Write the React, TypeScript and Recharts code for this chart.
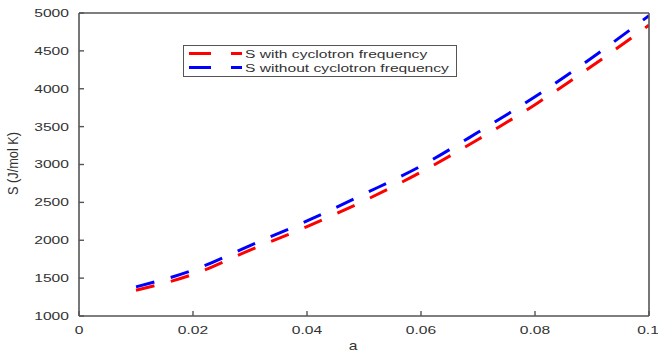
import React from 'react';
import { LineChart, Line, XAxis, YAxis, Legend } from 'recharts';

const aValues = [0.01, 0.02, 0.03, 0.04, 0.05, 0.06, 0.07, 0.08, 0.09, 0.1];
const sWithCyclotron = [1340, 1550, 1870, 2180, 2520, 2900, 3330, 3790, 4300, 4840];
const sWithoutCyclotron = [1385, 1605, 1930, 2255, 2610, 2980, 3425, 3895, 4410, 4965];
const xTicks = [0, 0.02, 0.04, 0.06, 0.08, 0.1];
const xTickLabels = ['0', '0.02', '0.04', '0.06', '0.08', '0.1'];
const yTicks = [1000, 1500, 2000, 2500, 3000, 3500, 4000, 4500, 5000];
const seriesNames = ['S with cyclotron frequency', 'S without cyclotron frequency'];
const seriesColors = ['#ff0000', '#0000ff'];

const data = aValues.map((a, i) => ({ a, s1: sWithCyclotron[i], s2: sWithoutCyclotron[i] }));

const FONT = '"Liberation Sans", Arial, sans-serif';
const TEXT = '#333333';
const AXIS = '#555555';
const SX = 1.42;

const YTick = (p: any) => (
  <text
    transform={`translate(${p.x},${p.y}) scale(${SX},1)`}
    textAnchor="end"
    dy="0.36em"
    fontSize={11}
    fontFamily={FONT}
    fill={TEXT}
  >
    {p.payload.value}
  </text>
);

const XTick = (p: any) => {
  const idx = xTicks.indexOf(p.payload.value);
  return (
    <text
      transform={`translate(${p.x},${p.y}) scale(${SX},1)`}
      textAnchor="middle"
      dy="0.71em"
      fontSize={11}
      fontFamily={FONT}
      fill={TEXT}
    >
      {idx >= 0 ? xTickLabels[idx] : p.payload.value}
    </text>
  );
};

const LegendBox = () => (
  <div
    style={{
      width: 274,
      height: 32,
      border: `1px solid ${AXIS}`,
      background: '#fff',
      boxSizing: 'border-box',
    }}
  >
    <svg width={272} height={30} style={{ display: 'block' }}>
      {seriesNames.map((name, i) => {
        const y = 7.5 + i * 14;
        return (
          <g key={name}>
            <line x1={5} x2={58} y1={y} y2={y} stroke={seriesColors[i]} strokeWidth={3} strokeDasharray="22 20" />
            <text
              transform={`translate(61,${y + 4}) scale(${SX},1)`}
              fontSize={11}
              fontFamily={FONT}
              fill={TEXT}
            >
              {name}
            </text>
          </g>
        );
      })}
    </svg>
  </div>
);

const axisLineStyle = { stroke: AXIS, strokeWidth: 1.6 };
const tickLineStyle = { stroke: AXIS, strokeWidth: 1.4 };

export default function App() {
  return (
    <div style={{ position: 'absolute', left: 0, top: 0, width: 658, height: 359, background: '#fff' }}>
      <LineChart width={658} height={359} data={data} margin={{ top: 12, right: 8, bottom: 0, left: 0 }}>
        <XAxis
          dataKey="a"
          type="number"
          domain={[0, 0.1]}
          ticks={xTicks}
          allowDataOverflow
          height={43}
          axisLine={axisLineStyle}
          tickLine={tickLineStyle}
          tickSize={-5}
          tickMargin={15}
          tick={(p: any) => <XTick {...p} />}
          label={{
            content: (props: any) => {
              const vb = props.viewBox || {};
              const cx = vb.x + vb.width / 2 - 11;
              return (
                <text
                  transform={`translate(${cx},350) scale(1.3,1)`}
                  textAnchor="middle"
                  fontSize={12}
                  fontFamily={FONT}
                  fill={TEXT}
                >
                  a
                </text>
              );
            },
          }}
        />
        <XAxis
          xAxisId="top"
          dataKey="a"
          orientation="top"
          type="number"
          domain={[0, 0.1]}
          ticks={xTicks}
          allowDataOverflow
          height={1}
          axisLine={axisLineStyle}
          tickLine={tickLineStyle}
          tickSize={-5}
          tick={false}
        />
        <YAxis
          type="number"
          domain={[1000, 5000]}
          ticks={yTicks}
          allowDataOverflow
          width={79}
          axisLine={axisLineStyle}
          tickLine={tickLineStyle}
          tickSize={-5}
          tickMargin={15}
          tick={(p: any) => <YTick {...p} />}
          label={{
            content: (props: any) => {
              const vb = props.viewBox || {};
              const cy = vb.y + vb.height / 2 - 1;
              return (
                <text
                  transform={`translate(13,${cy}) rotate(-90) scale(1.16,1.3)`}
                  textAnchor="middle"
                  dy="0.35em"
                  fontSize={11}
                  fontFamily={FONT}
                  fill={TEXT}
                >
                  S (J/mol K)
                </text>
              );
            },
          }}
        />
        <YAxis
          yAxisId="right"
          orientation="right"
          type="number"
          domain={[1000, 5000]}
          ticks={yTicks}
          allowDataOverflow
          width={1}
          axisLine={axisLineStyle}
          tickLine={tickLineStyle}
          tickSize={-5}
          tick={false}
        />
        <Legend
          layout="vertical"
          align="center"
          verticalAlign="middle"
          wrapperStyle={{ position: 'absolute', left: 183, top: 45, width: 274, height: 32 }}
          content={() => <LegendBox />}
        />
        <Line
          type="monotone"
          dataKey="s1"
          name={seriesNames[0]}
          stroke={seriesColors[0]}
          strokeWidth={3}
          strokeDasharray="19 17"
          dot={false}
          isAnimationActive={false}
        />
        <Line
          type="monotone"
          dataKey="s2"
          xAxisId="top"
          yAxisId="right"
          name={seriesNames[1]}
          stroke={seriesColors[1]}
          strokeWidth={3}
          strokeDasharray="19 17"
          dot={false}
          isAnimationActive={false}
        />
      </LineChart>
    </div>
  );
}
